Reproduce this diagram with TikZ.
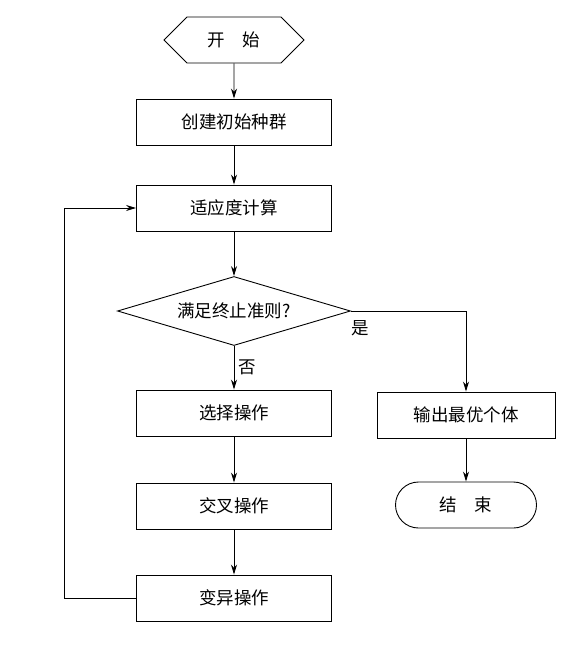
\documentclass[tikz,border=0pt]{standalone}
\usepackage{fontspec}
\setmainfont{Noto Sans CJK SC}
\usetikzlibrary{arrows.meta,shapes.geometric,shapes.misc,shapes.symbols}
\begin{document}
\begin{tikzpicture}[x=1pt,y=-1pt,
  font=\fontsize{17.5pt}{20pt}\selectfont,
  line width=0.9pt,
  proc/.style={draw,rectangle,minimum width=195pt,minimum height=46pt,inner sep=0pt},
  arr/.style={-{Stealth[length=10pt,width=6pt]}},
  every node/.style={line width=0.9pt}]
\useasboundingbox (0,0) rectangle (583,647);
\node[draw,signal,signal to=west and east,signal pointer angle=90,minimum width=140pt,minimum height=46pt,inner sep=0pt] (start) at (234,40) {开\quad 始};
\node[proc] (init) at (234,122) {创建初始种群};
\node[proc] (fit) at (234,208) {适应度计算};
\node[draw,diamond,aspect=3.4,minimum width=233pt,minimum height=69pt,inner sep=0pt] (dec) at (234,311) {满足终止准则?};
\node[proc] (sel) at (234,413) {选择操作};
\node[proc] (cross) at (234,506) {交叉操作};
\node[proc] (mut) at (234,598) {变异操作};
\node[proc,minimum width=178pt] (out) at (466,415) {输出最优个体};
\node[draw,rounded rectangle,minimum width=141pt,minimum height=46pt,inner sep=0pt] (end) at (466,505) {结\quad 束};
\coordinate (loop) at (64,598);
\draw[arr] (start) -- (init);
\draw[arr] (init) -- (fit);
\draw[arr] (fit) -- (dec);
\draw[arr] (dec) -- node[right,pos=0.5,xshift=1pt] (no) {否} (sel);
\draw[arr] (dec.east) -| (out.north);
\node (yes) at ([xshift=9pt,yshift=-17pt]dec.east) {是};
\draw[arr] (out) -- (end);
\draw[arr] (sel) -- (cross);
\draw[arr] (cross) -- (mut);
\draw[arr] (mut.west) -- (loop) |- (fit.west);
\end{tikzpicture}
\end{document}
